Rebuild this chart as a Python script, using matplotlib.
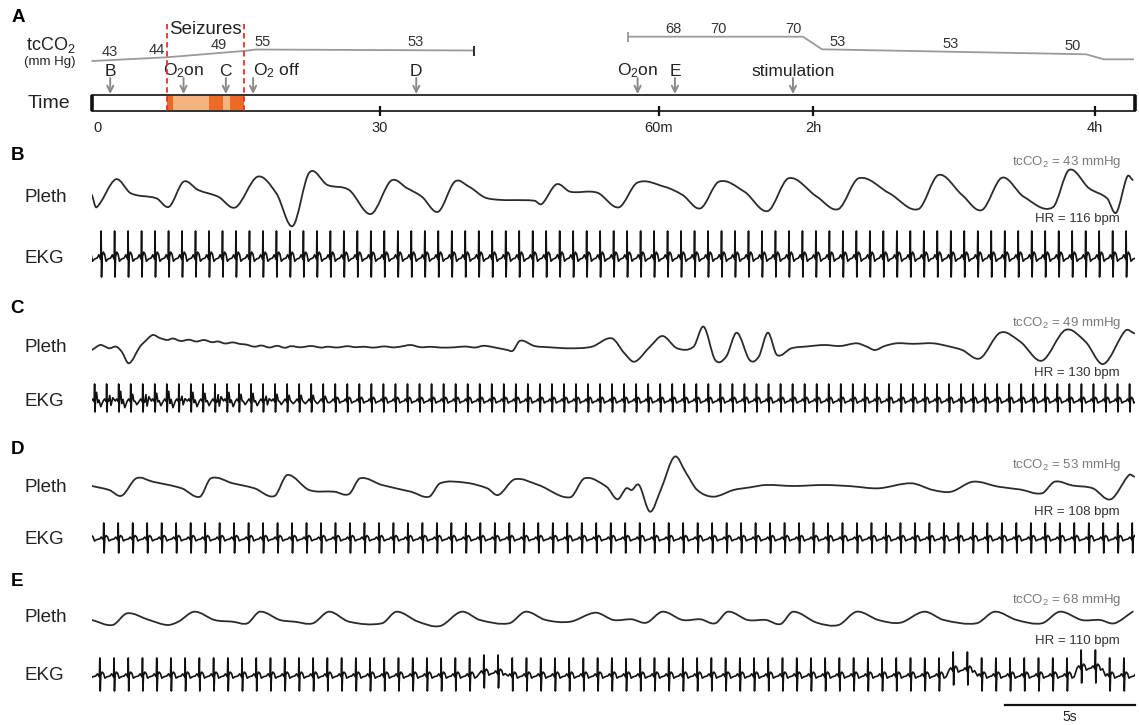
import numpy as np
import matplotlib
matplotlib.use("Agg")
import matplotlib.pyplot as plt
from matplotlib.patches import Rectangle, PathPatch
from matplotlib.path import Path

plt.rcParams["font.family"] = ["Liberation Sans", "DejaVu Sans"]
plt.rcParams["mathtext.default"] = "regular"

W, H = 1139, 725

# ---------------- panel A: time line (minutes) ----------------
tick_min = [0, 30, 60, 120, 240]
tick_labels = ["0", "30", "60m", "2h", "4h"]

event_labels = ["B", "O$_2$on", "C", "O$_2$ off", "D", "O$_2$on", "E", "stimulation"]
event_min = [1.3, 9.1, 13.6, 16.5, 33.9, 57.7, 66.2, 112.2]

seizure_edges = [7.3, 8.0, 11.8, 13.3, 14.0, 15.5]
seizure_kind = ["burst", "pause", "burst", "pause", "burst"]

# tcCO2 trend as drawn (display level, rows)
co2_pre_min = [-0.6, 7.3, 15.5, 16.8, 40.1]
co2_pre_row = [61.0, 57.3, 51.0, 49.5, 50.5]
co2_post_min = [56.7, 116.1, 123.8, 236.2, 243.8, 256.2]
co2_post_row = [36.7, 36.7, 49.3, 54.3, 59.3, 59.3]
co2_label_min = [1.3, 6.2, 12.8, 17.5, 33.8, 65.5, 83.0, 112.3, 130.6, 178.7, 230.6]
co2_label_val = [43, 44, 49, 55, 53, 68, 70, 70, 53, 53, 50]

record_min = [-0.6, 257.0]

# ---------------- panels B-E: 40 s recordings ----------------
pleth_b_t = [0.0, 0.17, 0.91, 1.49, 2.47, 2.96, 3.51, 4.07, 4.84, 5.51, 6.35, 7.07, 7.70, 8.33,
             9.03, 9.86, 10.70, 11.47, 12.09, 12.65, 13.28, 13.91, 14.46, 15.16, 16.97, 17.25, 17.81,
             18.34, 19.38, 20.21, 20.91, 21.95, 22.65, 23.34, 24.04, 25.02, 25.92, 26.71, 27.80,
             28.63, 29.40, 30.58, 31.70, 32.46, 33.37, 34.13, 34.90, 35.73, 36.85, 37.47, 38.24,
             38.93, 39.28, 39.70, 39.91]
pleth_b_v = [2.0, -10.3, 17.7, 3.7, -1.3, -9.7, 15.3, 7.0, 0.3, -10.3, 20.3, 3.7, -29.0, 24.3,
             12.0, 7.0, -17.0, 16.3, 8.7, 0.3, -14.7, 15.3, 10.3, -1.3, -3.7, -7.0, 12.7,
             5.3, 4.3, -10.3, 14.3, 10.3, 2.0, -11.3, 15.3, 5.3, -14.0, 18.7, 0.3,
             -12.0, 18.7, 3.7, -12.0, 22.0, 2.0, -13.0, 19.3, 0.3, -10.3, 27.0, 8.7,
             -1.3, -15.7, 20.3, 17.0]

pleth_c_t = [0.0, 0.31, 0.5, 0.66, 0.93, 1.14, 1.42, 1.84, 2.05, 2.33, 2.6, 2.89, 3.1, 3.4, 3.72,
             4.0, 4.3, 4.6, 4.84, 5.1, 5.4, 5.68, 5.9, 6.23, 6.5, 6.8, 7.1, 7.4, 7.63, 8.0, 8.4,
             8.8, 9.03, 9.4, 9.8, 10.1, 10.42, 10.8, 11.2, 11.6, 12.0, 12.23, 12.6, 13.0, 13.4,
             13.91, 14.3, 14.7, 15.0, 15.3, 15.93, 16.14, 16.42, 16.97, 17.5,
             18.34, 19.17, 19.93, 20.42, 20.81, 21.40, 21.88, 22.44, 23.07, 23.46, 23.90, 24.32,
             24.73, 25.22, 25.57, 25.92, 26.27, 26.82, 27.4, 28.08, 28.7, 29.33, 29.7, 30.03,
             30.4, 30.86, 31.5, 32.25, 32.8, 33.37, 34.06, 34.83, 35.60, 36.43, 37.33, 38.10,
             38.79, 39.63, 39.97]
pleth_c_v = [-3.0, 2.0, 0.5, -1.3, 0.3, -4.7, -16.3, 0.3, 6.0, 12.0, 9.0, 7.0, 8.5, 6.0, 7.3,
             5.5, 7.0, 4.8, 5.5, 3.5, 4.6, 3.0, 2.5, 0.3, 1.5, -0.5, 1.2, -0.8, 0.8, -0.3, 1.0,
             -0.6, 0.3, -0.5, 0.8, -0.2, 0.3, -0.6, 0.6, -0.4, 1.2, 2.0, -0.2, 0.2, -0.6,
             -0.3, 0.5, -0.5, 1.2, 0.3, -3.0, -3.7, 6.3, 1.0, -0.2,
             -1.3, 0.3, 8.7, -6.3, -14.7, 0.3, 11.0, -1.3, 0.3, 20.3, -13.0, -9.7,
             14.3, -13.0, -9.7, 14.3, -8.0, -1.3, 0.5, 2.0, 1.0, 3.7, 0.5, -3.0,
             1.0, 3.7, 3.2, 3.7, 1.0, -3.0, -11.3, 14.3, 5.3, -13.7, 17.0, 5.3,
             -17.0, 16.3, 13.7]

pleth_d_t = [0.0, 0.66, 1.14, 1.70, 2.33, 3.44, 4.14, 4.56, 5.40, 6.23, 7.00, 7.49, 8.33, 9.30,
             9.86, 10.28, 11.12, 12.23, 12.93, 13.35, 14.33, 15.16, 15.58, 16.21, 17.12,
             18.34, 18.89, 19.73, 20.15, 20.49, 20.70, 20.98, 21.40, 21.81, 22.34, 22.79, 23.21,
             23.83, 24.60, 25.2, 25.85, 26.9, 28.08, 29.1, 30.16, 31.42, 32.25, 32.95, 33.79,
             34.76, 35.6, 36.43, 36.92, 37.6, 38.38, 39.07, 39.77, 39.97]
pleth_d_v = [1.0, -3.0, -8.7, 8.7, 5.3, -1.3, -9.7, 8.7, 3.7, -1.3, -9.0, 12.0, -3.0, -4.7,
             -7.0, 8.7, 2.0, -4.7, -9.7, 3.7, 4.3, -1.3, -8.0, 7.7, 2.0,
             -10.3, 8.7, 0.3, -12.3, -1.3, -3.0, 2.0, -24.7, -3.0, 30.3, 13.7, -3.0,
             -9.7, -3.0, -0.5, 2.0, 1.0, 2.0, 0.8, -1.3, 3.7, -3.0, -4.7, 5.3,
             0.3, -2.5, -6.3, 5.3, 1.5, -1.3, -12.3, 12.0, 10.3]

pleth_e_t = [0.0, 0.79, 1.35, 2.19, 2.89, 3.31, 3.93, 4.70, 5.40, 5.96, 6.44, 7.21, 7.77, 8.47,
             9.09, 9.86, 11.12, 11.68, 12.51, 13.35, 14.17, 14.88, 16.00, 16.63, 17.40,
             18.34, 19.31, 20.00, 20.70, 21.26, 21.88, 22.65, 23.34, 23.90, 24.39, 25.15, 25.85,
             26.41, 26.89, 27.80, 28.63, 29.33, 30.16, 31.00, 31.91, 32.67, 33.92, 34.62, 35.46,
             36.43, 37.12, 37.96, 38.66, 39.21, 39.91]
pleth_e_v = [-2.0, -7.0, 4.7, -2.0, -7.0, -3.7, 6.3, -2.0, -3.7, -5.3, 6.3, -2.0, -3.7, -5.3,
             6.3, -3.7, -5.3, 6.3, -3.7, -8.0, 6.3, -2.0, -5.3, 6.3, -2.0,
             -3.7, 5.3, -2.0, -1.3, -4.7, 6.3, -2.0, -1.3, -5.3, 6.3, -2.0, -2.0,
             -6.0, 6.3, -4.7, -7.0, 6.3, -2.0, -4.7, 6.3, -2.0, -5.3, 6.3, -2.0,
             -5.3, 6.3, -2.0, -2.0, -5.3, 6.3]

# EKG: heart rate, first R wave (s), R height, S depth
ekg_b = dict(hr=116, first_r=0.35, r=27, s=19)
ekg_c = dict(hr=130, first_r=0.10, r=17, s=11)
ekg_d = dict(hr=108, first_r=0.45, r=16, s=14)
ekg_e = dict(hr=110, first_r=0.30, r=18, s=15)
# seizure artefact on the first beats of C
ekg_c_artifact = [5, -4, 6, 3, -5, 4, 6, -3, 5, 4, -5, 5, 3, 4, -3, 3, 2, 2, 2, 1]
# baseline lifts in E (start s, end s, offset)
ekg_e_lifts = [(14.8, 15.8, 3), (32.6, 33.9, 6), (37.9, 39.0, 8)]

tcco2_text = ["43", "49", "53", "68"]
hr_text = ["116", "130", "108", "110"]

# one beat: phase in RR, height as fraction of R (S scaled separately)
EKG_PHASE = [0.00, 0.12, 0.20, 0.26, 0.29, 0.32, 0.36, 0.45, 0.55, 0.65, 0.80]
EKG_SHAPE = [0.0, 0.12, 0.02, -0.05, 1.0, -1.0, 0.05, 0.22, 0.14, -0.12, -0.04]


def ekg_trace(hr, first_r, r, s, artifact=(), lifts=()):
    rr = 60.0 / hr
    n = int(np.ceil((40 - first_r) / rr)) + 1
    t, v = [], []
    for k in range(-1, n):
        start = first_r + k * rr - 0.29 * rr
        r_time = first_r + k * rr
        lift = sum(dv for a, b, dv in lifts if a <= r_time <= b)
        vals = [sh * (s if sh < -0.5 else r) for sh in EKG_SHAPE]
        if 0 <= k < len(artifact):
            a = artifact[k]
            vals[7] += a
            vals[8] -= 0.8 * a
            vals[9] += 0.6 * a
            vals[10] -= a
        for ph, val in zip(EKG_PHASE, vals):
            t.append(start + ph * rr)
            v.append(val + lift)
    return t, v


def smooth(t, v):
    # Hermite curve through the read points (centred slopes), as cubic Beziers
    t = np.asarray(t, float)
    v = np.asarray(v, float)
    m = np.empty_like(v)
    m[1:-1] = (v[2:] - v[:-2]) / (t[2:] - t[:-2])
    m[0] = (v[1] - v[0]) / (t[1] - t[0])
    m[-1] = (v[-1] - v[-2]) / (t[-1] - t[-2])
    verts, codes = [(t[0], v[0])], [Path.MOVETO]
    for i in range(len(t) - 1):
        h = t[i + 1] - t[i]
        verts += [(t[i] + h / 3, v[i] + m[i] * h / 3),
                  (t[i + 1] - h / 3, v[i + 1] - m[i + 1] * h / 3),
                  (t[i + 1], v[i + 1])]
        codes += [Path.CURVE4] * 3
    return Path(verts, codes)


fig = plt.figure(figsize=(W / 100, H / 100), dpi=100)

# overlay for labels, pixel coordinates
ax0 = fig.add_axes([0, 0, 1, 1])
ax0.set_xlim(0, W)
ax0.set_ylim(H, 0)
ax0.axis("off")

# ---- panel A ----
knot_min = [-60] + tick_min + [600]
knot_px = [98 - 60 * 9.4, 98, 380, 659, 813, 1095, 1095 + 360 * 2.35]


def fwd(t):
    return np.interp(t, knot_min, knot_px)


def inv(p):
    return np.interp(p, knot_px, knot_min)


axA = fig.add_axes([0, 1 - 135 / H, 1, 135 / H])
axA.set_xscale("function", functions=(fwd, inv))
axA.set_xlim(inv(0), inv(W))
axA.set_ylim(135, 0)
axA.axis("off")

# record bar
axA.add_patch(Rectangle((record_min[0], 95), record_min[1] - record_min[0], 16,
                        facecolor="white", edgecolor="#222222", lw=1.3, zorder=2))
axA.vlines(record_min, 95, 111, color="#111111", lw=2.6, zorder=4)
for x0, x1, kind in zip(seizure_edges[:-1], seizure_edges[1:], seizure_kind):
    col = "#ec6a25" if kind == "burst" else "#f5b37d"
    axA.add_patch(Rectangle((x0, 95.8), x1 - x0, 14.4, facecolor=col, edgecolor="none", zorder=3))
axA.vlines([seizure_edges[0], seizure_edges[-1]], 24, 111, colors="#e8302a",
           linestyles=(0, (3, 2)), lw=1.3, zorder=5)
axA.text(np.mean([seizure_edges[0], seizure_edges[-1]]), 29, "Seizures", ha="center",
         va="center", fontsize=13.5, color="#222222")

# ticks
axA.vlines(tick_min[1:], 106, 116, color="#111111", lw=1.6, zorder=4)
for t, lab in zip(tick_min, tick_labels):
    axA.text(t, 128, lab, ha="center", va="center", fontsize=10.5, color="#222222")

# events
for t, lab in zip(event_min, event_labels):
    axA.annotate("", xy=(t, 94), xytext=(t, 78),
                 arrowprops=dict(arrowstyle="->", color="#8a8a8a", lw=1.4,
                                 mutation_scale=11, shrinkA=0, shrinkB=0))
    if "off" in lab:
        axA.text(t, 71, lab, ha="left", va="center", fontsize=12.5, color="#222222")
    else:
        axA.text(t, 71, lab, ha="center", va="center", fontsize=12.5, color="#222222")

# tcCO2 trend
axA.plot(co2_pre_min, co2_pre_row, color="#9a9a9a", lw=1.3)
axA.plot(co2_post_min, co2_post_row, color="#9a9a9a", lw=1.3)
axA.vlines([co2_pre_min[-1]], 46, 56, color="#333333", lw=1.5)
axA.vlines([co2_post_min[0]], 32, 42, color="#9a9a9a", lw=1.3)
trend_min = co2_pre_min + co2_post_min
trend_row = co2_pre_row + co2_post_row
for t, val in zip(co2_label_min, co2_label_val):
    row = np.interp(t, trend_min, trend_row) - 8
    axA.text(t, row, str(val), ha="center", va="center", fontsize=10.5, color="#333333")

ax0.text(18, 17, "A", fontsize=13.5, fontweight="bold", ha="center", va="center")
ax0.text(26, 45, "tcCO$_2$", fontsize=13, ha="left", va="center", color="#222222")
ax0.text(24, 62, "(mm Hg)", fontsize=9.5, ha="left", va="center", color="#222222")
ax0.text(28, 103, "Time", fontsize=14, ha="left", va="center", color="#222222")

# ---- panels B-E ----
X0, X1 = 92, 1135


def trace_axes(ref, lo=-40, hi=40):
    ax = fig.add_axes([X0 / W, 1 - (ref - lo) / H, (X1 - X0) / W, (hi - lo) / H])
    ax.set_xlim(0, 40)
    ax.set_ylim(lo, hi)
    ax.axis("off")
    return ax


panels = [
    ("B", 155, 197, 258, pleth_b_t, pleth_b_v, ekg_b, (), (), 162, 219),
    ("C", 308, 347, 401, pleth_c_t, pleth_c_v, ekg_c, ekg_c_artifact, (), 323, 373),
    ("D", 449, 487, 539, pleth_d_t, pleth_d_v, ekg_d, (), (), 465, 512),
    ("E", 581, 618, 676, pleth_e_t, pleth_e_v, ekg_e, (), ekg_e_lifts, 600, 641),
]

for i, (letter, y_let, y_pl, y_ekg, pt, pv, ek, art, lifts, y_co2, y_hr) in enumerate(panels):
    ax0.text(17, y_let, letter, fontsize=13.5, fontweight="bold", ha="center", va="center")
    ax0.text(25, y_pl, "Pleth", fontsize=13.5, ha="left", va="center", color="#222222")
    ax0.text(25, y_ekg, "EKG", fontsize=13.5, ha="left", va="center", color="#222222")
    ax0.text(1121, y_co2, "tcCO$_2$ = " + tcco2_text[i] + " mmHg", fontsize=9.5,
             ha="right", va="center", color="#7a7a7a")
    ax0.text(1120, y_hr, "HR = " + hr_text[i] + " bpm", fontsize=9.5,
             ha="right", va="center", color="#333333")

    axp = trace_axes(y_pl)
    axp.add_patch(PathPatch(smooth(pt, pv), facecolor="none", edgecolor="#2b2b2b",
                            lw=1.3, capstyle="round", joinstyle="round"))

    axe = trace_axes(y_ekg, lo=-45)
    et, ev = ekg_trace(ek["hr"], ek["first_r"], ek["r"], ek["s"], art, lifts)
    axe.plot(et, ev, color="#111111", lw=1.2)

    if letter == "E":
        axe.plot([35, 40], [-29, -29], color="#111111", lw=1.6, clip_on=False)
        axe.text(37.5, -41, "5s", ha="center", va="center", fontsize=10, color="#222222",
                 clip_on=False)

fig.savefig("out.png", dpi=100)
